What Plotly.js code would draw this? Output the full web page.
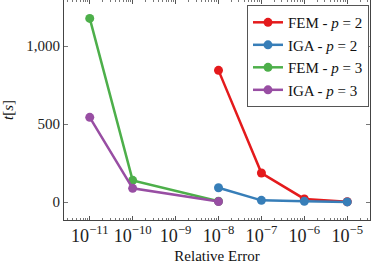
<!DOCTYPE html>
<html><head><meta charset="utf-8">
<script src="https://cdn.plot.ly/plotly-3.0.1.min.js"></script>
<style>html,body{margin:0;padding:0;background:#fff}#c{width:374px;height:264px}</style>
</head><body><div id="c"></div>
<script>
const femP2X = [1e-8, 1e-7, 1e-6, 1e-5];
const femP2Y = [844, 186, 20, 2];
const igaP2X = [1e-8, 1e-7, 1e-6, 1e-5];
const igaP2Y = [92, 11, 5, 1];
const femP3X = [1e-11, 1e-10, 1e-8];
const femP3Y = [1177, 139, 5];
const igaP3X = [1e-11, 1e-10, 1e-8];
const igaP3Y = [543, 88, 3];
const names = ['FEM - <i>p</i> = 2', 'IGA - <i>p</i> = 2', 'FEM - <i>p</i> = 3', 'IGA - <i>p</i> = 3'];
const colors = ['#e41a1c', '#377eb8', '#4daf4a', '#984ea3'];
const xs = [femP2X, igaP2X, femP3X, igaP3X];
const ys = [femP2Y, igaP2Y, femP3Y, igaP3Y];
const traces = xs.map((x, i) => ({
  x: x, y: ys[i], name: names[i], type: 'scatter', mode: 'lines+markers',
  line: {color: colors[i], width: 2.5}, marker: {color: colors[i], size: 9}
}));
const fam = 'Liberation Serif';
const font = {family: fam, size: 15, color: '#222'};
Plotly.newPlot('c', traces, {
  width: 374, height: 264,
  margin: {l: 64, r: 4, t: 0, b: 44},
  font: font,
  showlegend: true,
  legend: {x: 0.598, y: 0.977, xanchor: 'left', yanchor: 'top', bgcolor: '#fff',
           bordercolor: '#555', borderwidth: 1, font: {family: fam, size: 15, color: '#111'},
           tracegroupgap: 0, itemwidth: 30},
  xaxis: {type: 'log', range: [-11.6, -4.47], exponentformat: 'power', dtick: 1, tickangle: 0,
          showgrid: false, zeroline: false, showline: true, mirror: 'ticks', linecolor: '#444', linewidth: 1,
          ticks: 'inside', ticklen: 4, tickcolor: '#555',
          minor: {ticks: 'inside', ticklen: 2, tickcolor: '#777', dtick: 'D1', showgrid: false},
          title: {text: 'Relative Error', font: {family: fam, size: 15, color: '#111'}, standoff: 6},
          tickfont: {family: fam, size: 14.5, color: '#222'}},
  yaxis: {range: [-115, 1295], tickvals: [0, 500, 1000], ticktext: ['0', '500', '1,000'],
          showgrid: false, zeroline: false, showline: true, mirror: 'ticks', linecolor: '#444', linewidth: 1,
          ticks: 'inside', ticklen: 4, tickcolor: '#777',
          title: {text: '<i>t</i>[<i>s</i>]', font: {family: fam, size: 15, color: '#111'}, standoff: 10},
          tickfont: {family: fam, size: 15, color: '#222'}},
  plot_bgcolor: '#fff', paper_bgcolor: '#fff'
}, {displayModeBar: false, staticPlot: true});
</script></body></html>
